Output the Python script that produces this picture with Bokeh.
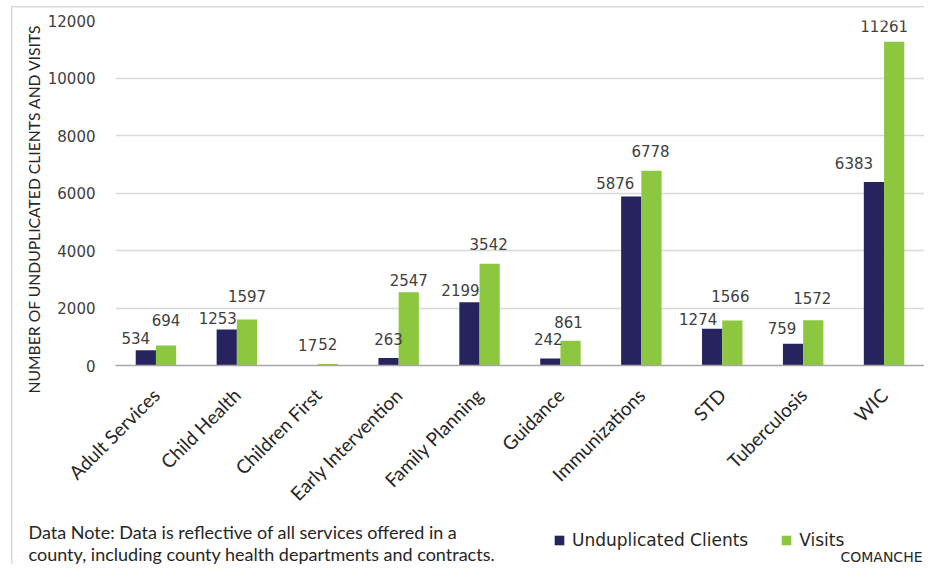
import math
from bokeh.plotting import figure
from bokeh.layouts import column
from bokeh.models import (ColumnDataSource, FactorRange, LabelSet, Label, Legend, LegendItem,
                          FixedTicker, NumeralTickFormatter, Range1d, Title)
from bokeh.transform import dodge
from bokeh.core.properties import value
from bokeh.embed import file_html
from bokeh.resources import INLINE

# ---------------- data ----------------
categories = ["Adult Services", "Child Health", "Children First", "Early Intervention",
              "Family Planning", "Guidance", "Immunizations", "STD", "Tuberculosis", "WIC"]
clients = [534, 1253, 17, 263, 2199, 242, 5876, 1274, 759, 6383]
visits = [694, 1597, 52, 2547, 3542, 861, 6778, 1566, 1572, 11261]
y_ticks = [0, 2000, 4000, 6000, 8000, 10000, 12000]
series_names = ["Unduplicated Clients", "Visits"]

# data-label placement (pixel offsets relative to bar-top centre)
clients_lab_dx = [-10, -9, 0, 0, -9, -2, -16, -14, -11, -20]
clients_lab_dy = [12, 11, 20, 19, 12, 20, 14, 10, 16, 19]
visits_lab_dx = [0, 0, 0, 0, -1, -2, -1, -2, -1, -10]
visits_lab_dy = [26, 24, 20, 12, 20, 19, 20, 24, 22, 16]

# ---------------- style ----------------
DARK = "#27235f"
GREEN = "#8dc63f"
TXT = "#404040"
W = 924
H1, H2 = 520, 44

src = ColumnDataSource(dict(
    cat=categories, clients=clients, visits=visits,
    clients_txt=[str(v) for v in clients], visits_txt=[str(v) for v in visits],
    cdx=clients_lab_dx, cdy=clients_lab_dy, vdx=visits_lab_dx, vdy=visits_lab_dy,
))

p = figure(x_range=FactorRange(*categories), y_range=(0, 12000),
           width=W, height=H1, output_backend="svg", toolbar_location=None,
           min_border_left=115, min_border_right=0, min_border_top=20, min_border_bottom=155)
p.outline_line_color = None
p.background_fill_color = "white"
p.border_fill_alpha = 0

r1 = p.vbar(x=dodge("cat", -0.125, range=p.x_range), top="clients", width=0.25,
            source=src, fill_color=DARK, line_color=None)
r2 = p.vbar(x=dodge("cat", 0.125, range=p.x_range), top="visits", width=0.25,
            source=src, fill_color=GREEN, line_color=None)

p.add_layout(LabelSet(x=dodge("cat", -0.125, range=p.x_range), y="clients", text="clients_txt",
                      x_offset="cdx", y_offset="cdy", source=src, text_align="center",
                      text_baseline="middle", text_font=value("DejaVu Sans"),
                      text_font_size="15px", text_color=TXT))
p.add_layout(LabelSet(x=dodge("cat", 0.125, range=p.x_range), y="visits", text="visits_txt",
                      x_offset="vdx", y_offset="vdy", source=src, text_align="center",
                      text_baseline="middle", text_font=value("DejaVu Sans"),
                      text_font_size="15px", text_color=TXT))

# axes
p.yaxis.ticker = FixedTicker(ticks=y_ticks)
p.yaxis.formatter = NumeralTickFormatter(format="0")
p.yaxis.axis_line_color = None
p.yaxis.major_tick_line_color = None
p.yaxis.major_tick_out = 0
p.yaxis.major_tick_in = 0
p.yaxis.minor_tick_line_color = None
p.yaxis.major_label_standoff = 20
p.yaxis.major_label_text_font = "DejaVu Sans"
p.yaxis.major_label_text_font_size = "15px"
p.yaxis.major_label_text_color = TXT

p.add_layout(Title(text="NUMBER OF UNDUPLICATED CLIENTS AND VISITS", align="left",
                   offset=-28, standoff=4, text_font="Lato", text_font_style="normal",
                   text_font_size="15.7px", text_color="#262626"), "left")

p.xaxis.axis_line_color = "#a6a6a6"
p.xaxis.axis_line_width = 1.5
p.xaxis.major_tick_line_color = None
p.xaxis.major_tick_out = 0
p.xaxis.major_tick_in = 0
p.xaxis.minor_tick_line_color = None
p.xaxis.major_label_orientation = math.pi / 4
p.xaxis.major_label_standoff = 26
p.xaxis.major_label_text_font = "Lato"
p.xaxis.major_label_text_font_size = "19px"
p.xaxis.major_label_text_color = "#262626"

p.xgrid.grid_line_color = None
p.ygrid.grid_line_color = "#d9d9d9"
p.ygrid.grid_line_width = 1.5

# ---------------- footer (notes + legend) ----------------
p2 = figure(width=W, height=H2, output_backend="svg", toolbar_location=None,
            x_range=Range1d(0, W), y_range=Range1d(H1 + H2, H1),
            x_axis_type=None, y_axis_type=None, min_border=0)
p2.outline_line_color = None
p2.background_fill_alpha = 0
p2.border_fill_alpha = 0
p2.xgrid.visible = False
p2.ygrid.visible = False
for fig in (p, p2):
    try:
        fig.frame_align = False
    except Exception:
        pass

for txt, yp in [("Data Note: Data is reflective of all services offered in a", 531),
                ("county, including county health departments and contracts.", 553)]:
    p2.add_layout(Label(x=28, y=yp, text=txt, text_align="left", text_baseline="middle",
                        text_font="Lato", text_font_size="18px", text_color="#262626"))
p2.add_layout(Label(x=922, y=556, text="COMANCHE", text_align="right", text_baseline="middle",
                    text_font="DejaVu Sans", text_font_size="14px", text_color="#262626"))

# legend swatches: zero-height bars that carry the series colours
k1 = p2.vbar(x=0, top=0, width=0.001, source=src, fill_color=DARK, line_color=None)
k2 = p2.vbar(x=0, top=0, width=0.001, source=src, fill_color=GREEN, line_color=None)
legend = Legend(items=[LegendItem(label=series_names[0], renderers=[k1], index=0),
                       LegendItem(label=series_names[1], renderers=[k2], index=0)],
                orientation="horizontal", location=(553, 14),
                glyph_width=12, glyph_height=12, label_standoff=7, spacing=32,
                padding=0, margin=0, border_line_color=None, background_fill_alpha=0,
                label_text_font="DejaVu Sans", label_text_font_size="17px",
                label_text_color="#262626", label_height=12)
p2.add_layout(legend, "center")

page = column(p, p2, spacing=0, styles={
    "background": "linear-gradient(#d9d9d9,#d9d9d9) 11px 6px / 1.5px 100% no-repeat, "
                  "linear-gradient(#d9d9d9,#d9d9d9) 11px 6px / 100% 1.5px no-repeat"})

open("out.html", "w").write(file_html(page, INLINE))
